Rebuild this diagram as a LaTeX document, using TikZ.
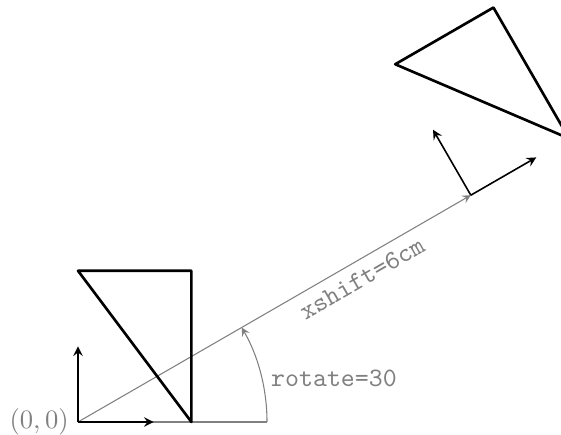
\documentclass[tikz,border=0pt]{standalone}
\begin{document}
\tikzset{
  axisarrow/.style={-stealth,semithick},
  tri/.style={line width=1pt,line join=round},
  helper/.style={gray,-stealth},
  helperlabel/.style={gray,font=\ttfamily}
}
\begin{tikzpicture}
\useasboundingbox (-1.032,-0.159) rectangle (6.389,5.582);
\clip (-1.032,-0.159) rectangle (6.389,5.582);
\coordinate (O) at (0,0);
\coordinate (S) at (30:6);
\coordinate (B) at (2.5,0);
% gray helpers
\draw[gray] (O) -- (B);
\draw[helper] (B) arc (0:30:2.5) coordinate (A);
\node[helperlabel,anchor=west] (rl) at (13.4:2.5) {rotate=30};
\draw[helper] (O) -- node[helperlabel,pos=0.7,sloped,below] (xl) {xshift=6cm} (S);
\node[gray,left] (ol) at (O) {$(0,0)$};
% original frame
\coordinate (X1) at (1,0);
\coordinate (Y1) at (0,1);
\draw[axisarrow] (O) -- (X1);
\draw[axisarrow] (O) -- (Y1);
\draw[tri] (0,2) -- (1.5,2) -- (1.5,0) -- cycle;
% transformed frame
\begin{scope}[shift={(S)},rotate=30]
  \coordinate (O2) at (0,0);
  \coordinate (X2) at (1,0);
  \coordinate (Y2) at (0,1);
  \draw[axisarrow] (O2) -- (X2);
  \draw[axisarrow] (O2) -- (Y2);
  \draw[tri] (0,2) -- (1.5,2) -- (1.5,0) -- cycle;
\end{scope}
\end{tikzpicture}
\end{document}
